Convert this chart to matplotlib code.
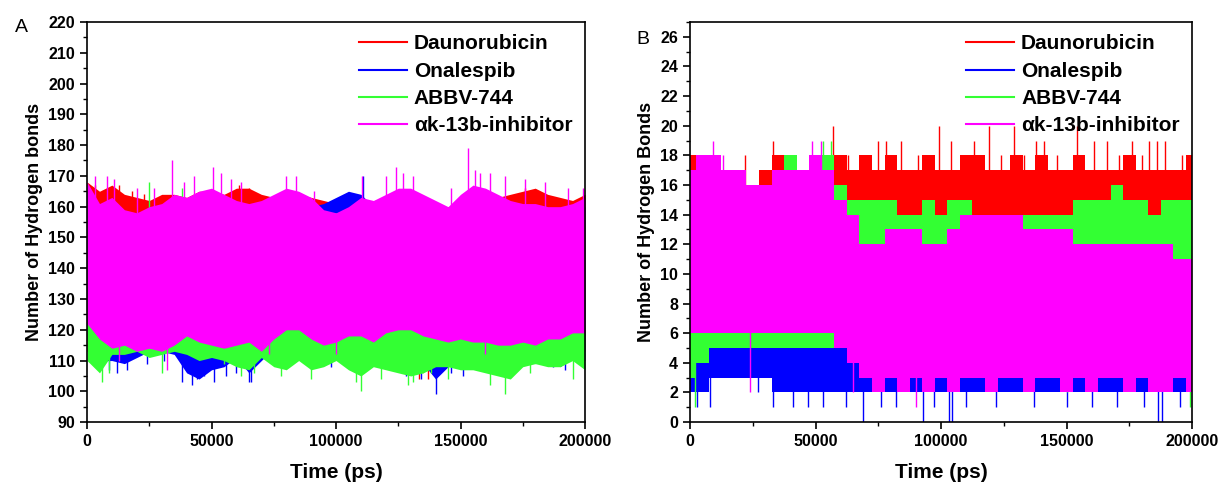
import numpy as np
import matplotlib
matplotlib.use('Agg')
import matplotlib.pyplot as plt
from matplotlib.ticker import MultipleLocator

plt.rcParams['font.family'] = ['Liberation Sans', 'DejaVu Sans']

labels = ['Daunorubicin', 'Onalespib', 'ABBV-744', 'αk-13b-inhibitor']
colors = ['#ff0000', '#0000ff', '#33ff33', '#ff00ff']
step_ps = 5000   # envelope read every 5000 ps

# ---- panel A : upper / lower envelope of each trace
a_red_hi = [168,165,167,164,163,162,164,164,163,165,165,164,166,166,164,163,164,164,163,162,161,
            160,162,162,162,163,163,162,160,160,161,162,162,163,164,165,166,164,163,162,164]
a_red_lo = [113,113,113,113,113,113,113,113,113,113,113,113,113,113,113,113,113,113,113,113,113,
            113,113,113,113,113,108,106,113,108,113,113,113,113,113,113,113,111,113,113,113]
a_blue_hi = [165,160,159,158,158,159,160,160,160,160,160,160,160,160,159,159,159,159,160,161,163,
             165,164,160,160,160,160,160,159,159,159,160,160,160,159,159,159,159,159,159,160]
a_blue_lo = [117,110,110,109,111,113,113,112,106,104,107,108,111,106,110,114,112,113,111,110,113,
             112,112,111,111,109,108,109,104,108,109,109,110,111,111,111,109,110,108,111,110]
a_green_hi = [165,160,158,157,157,160,158,159,160,159,159,159,159,159,158,159,159,159,159,158,158,
              158,158,158,158,158,158,158,158,158,158,158,158,158,158,158,158,158,158,158,158]
a_green_lo = [110,106,112,112,113,111,112,113,112,110,111,110,108,107,111,108,107,110,107,108,110,
              107,105,108,107,106,105,106,108,108,107,107,106,105,104,108,109,108,108,110,107]
a_mag_hi = [168,161,163,159,158,160,161,164,163,165,166,164,162,161,162,164,166,165,163,159,158,
            160,163,162,164,166,166,164,162,160,164,167,166,164,162,161,161,160,160,161,163]
a_mag_lo = [122,117,114,115,113,114,113,115,118,116,115,114,115,116,113,117,120,120,117,115,116,
            118,118,116,119,120,120,118,117,116,117,116,116,115,115,116,115,117,117,119,119]

# single spikes standing out of the bands (time ps, value)
a_red_spk_t = [3000, 13000, 18000, 23000, 61000, 65000, 97000, 116000, 176000, 178000, 188000,
               133500, 137000, 157000, 187000]
a_red_spk_v = [167, 167, 165, 164, 167, 166, 160, 162, 166, 165, 163, 104, 104, 107, 110]
a_blue_spk_t = [4000, 9000, 12000, 16000, 24000, 31000, 38000, 42000, 44000, 47000, 51000, 56000,
                60000, 65000, 66000, 98000, 118000, 128000, 134000, 140000, 146000, 151000,
                160000, 172000, 187000, 192000, 111000, 106000]
a_blue_spk_v = [110, 107, 106, 107, 109, 110, 103, 102, 104, 105, 103, 105, 106, 103, 103, 108,
                108, 105, 104, 99, 106, 105, 109, 107, 108, 107, 170, 164]
a_green_spk_t = [2000, 6000, 9000, 30000, 55000, 62000, 67000, 78000, 90000, 108000, 110000,
                 118000, 129000, 131000, 138000, 145000, 162000, 168000, 178000, 195000, 25000, 38000]
a_green_spk_v = [110, 103, 106, 106, 109, 105, 106, 105, 104, 103, 100, 104, 102, 103, 106, 104,
                 102, 99, 106, 104, 168, 166]
a_mag_spk_t = [3000, 8000, 11000, 20000, 27000, 34000, 39000, 43000, 50500, 54000, 58000, 62000,
               80000, 84000, 91000, 110500, 120000, 124000, 127000, 131000, 146000, 153000,
               156000, 158000, 162000, 168000, 176000, 184000, 193000, 199000,
               13000, 32000, 73000, 100000, 160000]
a_mag_spk_v = [170, 170, 169, 166, 166, 175, 168, 170, 173, 171, 169, 168, 170, 170, 165, 170,
               170, 173, 171, 170, 166, 179, 172, 171, 171, 170, 169, 168, 166, 166,
               110, 107, 112, 112, 112]

# ---- panel B
b_red_hi = [18,18,17,17,17,16,17,18,17,17,17,17,18,17,18,17,18,17,17,18,17,
            17,18,18,17,17,18,17,18,17,17,18,17,17,17,18,17,17,17,17,18]
b_red_lo = [4] * 41
b_blue_hi = [13] * 41
b_blue_lo = [2,2,3,3,3,3,3,2,2,2,2,2,2,2,2,2,2,2,2,2,2,
             2,2,2,2,2,2,2,2,2,2,2,2,2,2,2,2,2,2,2,2]
b_green_hi = [17,17,17,16,16,16,16,17,18,17,17,18,16,15,15,15,15,14,14,15,14,
              15,15,14,14,14,14,14,14,14,14,15,15,15,16,15,15,14,15,15,15]
b_green_lo = [3,4,5,5,5,5,5,5,5,5,5,5,5,4,3,3,3,3,3,3,3,
              3,3,3,3,3,3,3,3,3,3,3,3,3,3,3,3,3,3,3,3]
b_mag_hi = [17,18,18,17,17,16,16,17,17,17,18,17,15,14,12,12,13,13,13,12,12,
            13,14,14,14,14,14,13,13,13,13,12,12,12,12,12,12,12,12,11,11]
b_mag_lo = [6,6,6,6,6,6,6,6,6,6,6,6,5,4,3,2,3,2,3,2,3,
            2,3,3,2,3,3,2,3,3,2,3,2,3,3,2,3,2,2,3,2]

b_red_spk_t = [22000, 33000, 57000, 63000, 68000, 75000, 78000, 84000, 91000, 99000, 104000,
               108000, 113000, 119000, 124000, 129000, 133000, 138000, 141000, 146000, 154000,
               161000, 166000, 171000, 176000, 180000, 183000, 186000, 189000, 196000]
b_red_spk_v = [18, 19, 20, 18, 18, 19, 19, 19, 18, 20, 19, 18, 19, 20, 18, 20, 18, 19, 19, 18,
               20, 19, 19, 18, 19, 18, 19, 19, 19, 18]
b_blue_spk_t = [3000, 8000, 27000, 33000, 41000, 47000, 53000, 62000, 69000, 76000, 82000, 93000,
                97000, 103000, 104500, 110000, 122000, 137000, 150000, 160000, 170000, 181000,
                186500, 188000, 195000]
b_blue_spk_v = [1, 1, 2, 1, 1, 1, 1, 1, 0, 1, 1, 0, 1, 0, 0, 1, 1, 1, 1, 1, 1, 1, 0, 0, 1]
b_green_spk_t = [40000, 53000, 56000, 2000, 150000, 199000, 198000]
b_green_spk_v = [18, 19, 19, 1, 2, 1, 10]
b_mag_spk_t = [9000, 13000, 48500, 52000, 24000, 65000, 90000]
b_mag_spk_v = [19, 18, 19, 19, 2, 2, 1]

fig = plt.figure(figsize=(12.19, 4.88), dpi=100)
axA = fig.add_axes([0.0714, 0.135, 0.4085, 0.82])
axB = fig.add_axes([0.566, 0.135, 0.412, 0.82])


def draw(ax, series, spikes, base, step=None):
    for i, ((hi, lo), (st, sv), c, lab) in enumerate(zip(series, spikes, colors, labels)):
        t = np.arange(len(hi)) * step_ps
        ax.fill_between(t, lo, hi, color=c, lw=0, step=step, zorder=2 + i)
        ax.vlines(st, base, sv, color=c, lw=1.0, zorder=2 + i)
        ax.plot([], [], color=c, lw=1.5, label=lab)


draw(axA,
     [(a_red_hi, a_red_lo), (a_blue_hi, a_blue_lo), (a_green_hi, a_green_lo), (a_mag_hi, a_mag_lo)],
     [(a_red_spk_t, a_red_spk_v), (a_blue_spk_t, a_blue_spk_v),
      (a_green_spk_t, a_green_spk_v), (a_mag_spk_t, a_mag_spk_v)],
     140)
draw(axB,
     [(b_red_hi, b_red_lo), (b_blue_hi, b_blue_lo), (b_green_hi, b_green_lo), (b_mag_hi, b_mag_lo)],
     [(b_red_spk_t, b_red_spk_v), (b_blue_spk_t, b_blue_spk_v),
      (b_green_spk_t, b_green_spk_v), (b_mag_spk_t, b_mag_spk_v)],
     9, step='mid')

axA.set_ylim(90, 220)
axA.yaxis.set_major_locator(MultipleLocator(10))
axA.yaxis.set_minor_locator(MultipleLocator(5))
axA.set_ylabel('Number of Hydrogen bonds', fontsize=13, fontweight='bold')

axB.set_ylim(0, 27)
axB.yaxis.set_major_locator(MultipleLocator(2))
axB.yaxis.set_minor_locator(MultipleLocator(1))
axB.set_ylabel('Number of Hydrogen Bonds', fontsize=13, fontweight='bold')

for ax in (axA, axB):
    ax.set_xlim(0, 200000)
    ax.xaxis.set_major_locator(MultipleLocator(50000))
    ax.xaxis.set_minor_locator(MultipleLocator(25000))
    ax.set_xlabel('Time (ps)', fontsize=15, fontweight='bold', labelpad=10)
    ax.tick_params(which='major', direction='out', length=5, width=1.2, labelsize=11.5)
    ax.tick_params(which='minor', direction='out', length=3, width=1.0)
    for lab in ax.get_xticklabels() + ax.get_yticklabels():
        lab.set_fontweight('bold')
    for s in ax.spines.values():
        s.set_linewidth(1.2)
        s.set_zorder(10)
    ax.legend(loc='upper right', frameon=False, handlelength=2.3, handletextpad=0.35,
              labelspacing=0.4, borderaxespad=0.2, prop={'size': 15, 'weight': 'bold'})

fig.text(0.012, 0.935, 'A', fontsize=14)
fig.text(0.522, 0.91, 'B', fontsize=14)

fig.savefig('out.png', dpi=100)
